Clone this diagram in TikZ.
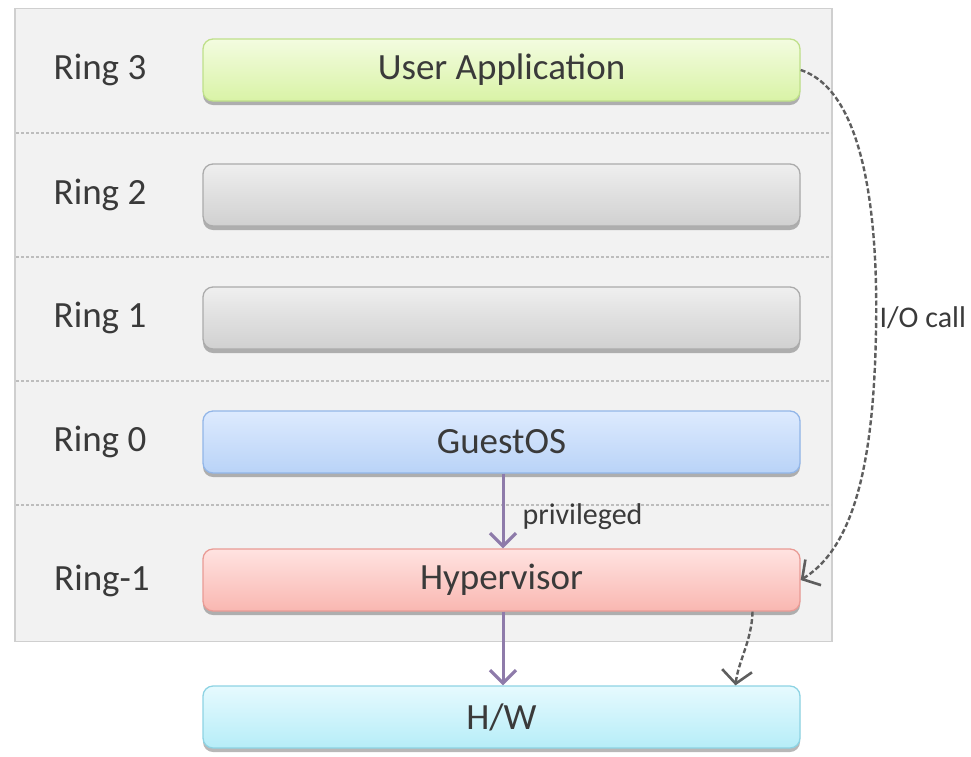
\documentclass[tikz,border=0pt]{standalone}
\usepackage{fontspec}
\setmainfont{Carlito}
\usetikzlibrary{arrows.meta,shadows,shadings}
\definecolor{txt}{HTML}{3A3A3A}
\definecolor{panelfill}{HTML}{F2F2F2}
\definecolor{panelline}{HTML}{CFCFCF}
\definecolor{sepline}{HTML}{BDBDBD}
\definecolor{purp}{HTML}{8E7BAA}
\definecolor{dgray}{HTML}{5E5E5E}
\definecolor{gtop}{HTML}{F3FCE0}\definecolor{gbot}{HTML}{D9F3A6}\definecolor{gln}{HTML}{BFE08A}
\definecolor{ytop}{HTML}{EFEFEF}\definecolor{ybot}{HTML}{D0D0D0}\definecolor{yln}{HTML}{ABABAB}
\definecolor{btop}{HTML}{DDEAFE}\definecolor{bbot}{HTML}{B9D3F7}\definecolor{bln}{HTML}{92B6E8}
\definecolor{rtop}{HTML}{FFE3E1}\definecolor{rbot}{HTML}{F9B7B1}\definecolor{rln}{HTML}{E99B95}
\definecolor{ctop}{HTML}{E6FAFE}\definecolor{cbot}{HTML}{B6EDF8}\definecolor{cln}{HTML}{8DD3E3}
\tikzset{
  ringbox/.style={rounded corners=10pt, minimum width=597pt, minimum height=62pt,
    line width=1.3pt, inner sep=0pt, font=\fontsize{37}{42}\selectfont, text=txt,
    drop shadow={shadow xshift=0pt, shadow yshift=-4pt, fill=black, opacity=0.28}},
  greenbox/.style={ringbox, draw=gln, top color=gtop, bottom color=gbot},
  graybox/.style={ringbox, draw=yln, top color=ytop, bottom color=ybot},
  bluebox/.style={ringbox, draw=bln, top color=btop, bottom color=bbot},
  redbox/.style={ringbox, draw=rln, top color=rtop, bottom color=rbot},
  cyanbox/.style={ringbox, draw=cln, top color=ctop, bottom color=cbot},
  ringlabel/.style={font=\fontsize{37}{42}\selectfont, text=txt},
  smalllabel/.style={font=\fontsize{30}{34}\selectfont, text=txt},
  seprule/.style={draw=sepline, line width=1.2pt, dash pattern=on 3pt off 2pt},
  privarrow/.style={draw=purp, line width=3pt, -{Straight Barb[length=13pt,width=26pt,line width=3.2pt]}},
  callarrow/.style={draw=dgray, line width=2.4pt, dash pattern=on 5pt off 2.5pt,
    -{Straight Barb[length=13pt,width=30pt,line width=2.6pt]}}
}
\begin{document}
\begin{tikzpicture}[x=1pt,y=-1pt]
\useasboundingbox (0,0) rectangle (971,756);
% panel
\node (panel) [draw=panelline, fill=panelfill, line width=1.2pt, minimum width=817pt,
  minimum height=633pt, inner sep=0pt] at (423.5,325) {};
% separators
\foreach \yy/\nm in {133/s1,257/s2,381/s3,505/s4}{
  \coordinate (\nm a) at (16,\yy);
  \coordinate (\nm b) at (831,\yy);
  \draw[seprule] (\nm a) -- (\nm b);
}
% boxes
\node (ua)  [greenbox] at (501.5,70)  {User Application};
\node (r2)  [graybox]  at (501.5,195) {};
\node (r1)  [graybox]  at (501.5,318) {};
\node (gos) [bluebox]  at (501.5,442) {GuestOS};
\node (hyp) [redbox]   at (501.5,580) {Hypervisor};
\node (hw)  [cyanbox]  at (501.5,717) {H/W};
% ring labels
\node (l3)  [ringlabel] at (100,70)  {Ring 3};
\node (l2)  [ringlabel] at (100,195) {Ring 2};
\node (l1)  [ringlabel] at (100,318) {Ring 1};
\node (l0)  [ringlabel] at (100,442) {Ring 0};
\node (lm1) [ringlabel] at (102,581) {Ring-1};
% privileged arrows
\path (gos.south) ++(1.5,0) coordinate (g1);
\path (hyp.north) ++(1.5,0) coordinate (h1);
\path (hyp.south) ++(1.5,0) coordinate (h2);
\path (hw.north) ++(1.5,0) coordinate (w1);
\draw[privarrow] (g1) -- (h1);
\draw[privarrow] (h2) -- (w1);
\node (priv) [smalllabel, anchor=west] at (519,517) {privileged};
% I/O call
\draw[callarrow] (ua.east) .. controls (868,92) and (878,230) .. (876,330)
  .. controls (874,450) and (858,545) .. (hyp.east);
\node (io) [smalllabel, anchor=west] at (876,318) {I/O call};
\path (hyp.south) ++(251,0) coordinate (h3);
\path (hw.north) ++(234,0) coordinate (w2);
\draw[callarrow] (h3) .. controls (752,640) and (738,662) .. (w2);
\end{tikzpicture}
\end{document}
